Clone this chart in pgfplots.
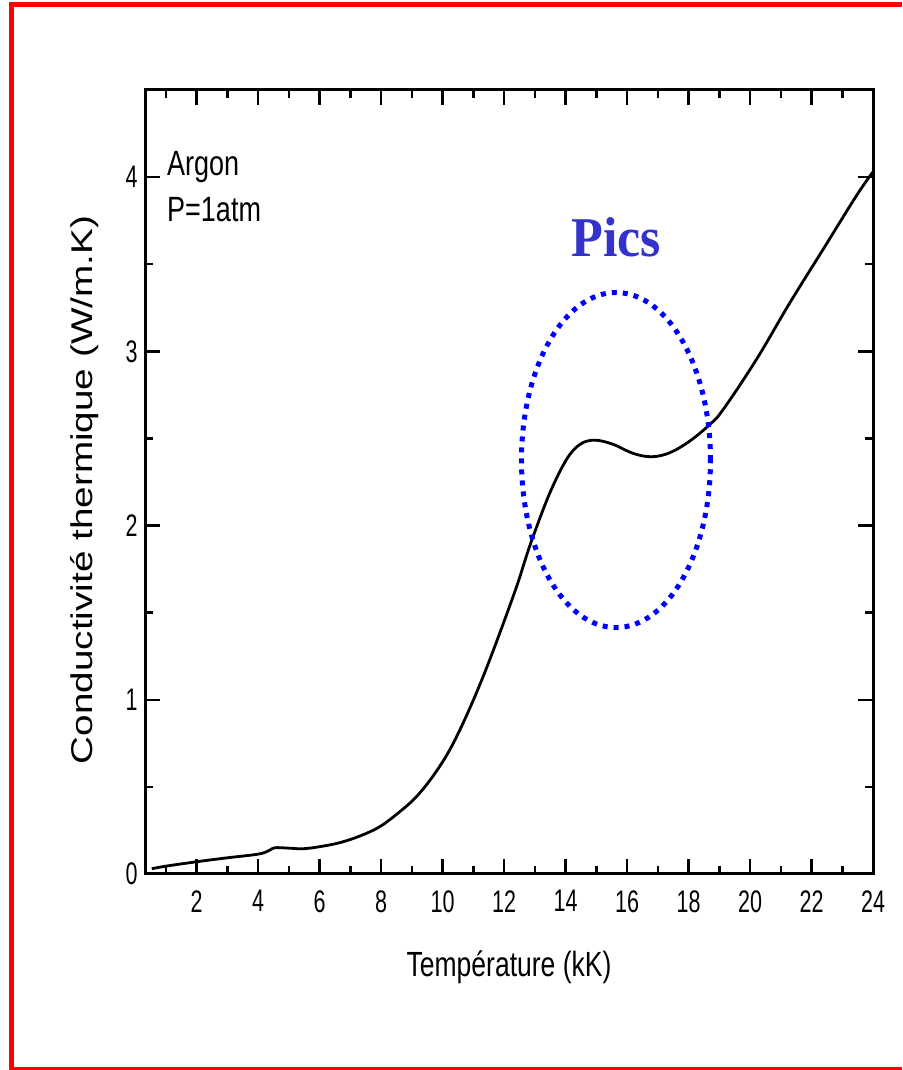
\documentclass[border=0pt]{standalone}
\usepackage{pgfplots}
\pgfplotsset{compat=1.18}
\usepackage{fontspec}
\setmainfont{Liberation Sans}
\newfontfamily\timesfont{Liberation Serif}
\definecolor{picsblue}{RGB}{51,51,204}

\begin{document}
\begin{tikzpicture}
\useasboundingbox (0pt,0pt) rectangle (902pt,1070pt);
% red frame
\draw[red, line width=5pt] (9pt,1065.5pt) -- (902pt,1065.5pt);
\draw[red, line width=5pt] (11.5pt,0pt) -- (11.5pt,1068pt);
\draw[red, line width=2.5pt] (9pt,1.5pt) -- (902pt,1.5pt);

\begin{axis}[
    at={(145pt,196pt)}, anchor=south west, scale only axis,
    width=728pt, height=784pt,
    xmin=0.32, xmax=24, ymin=0, ymax=4.5,
    xtick={2,4,...,24}, ytick={0,1,2,3,4},
    minor xtick={1,3,...,23}, minor ytick={0.5,1.5,2.5,3.5},
    tick align=inside,
    major tick length=15pt, minor tick length=8pt,
    axis line style={line width=3pt},
    tick style={line width=2.5pt, black},
    /pgf/number format/assume math mode=true,
    xticklabel={\scalebox{1}[1.45]{\pgfmathprintnumber{\tick}}},
    yticklabel={\scalebox{1}[1.45]{\pgfmathprintnumber{\tick}}},
    ticklabel style={font=\fontsize{21.5}{25}\selectfont},
    xticklabel shift=13pt, yticklabel shift=4pt,
    xlabel={\scalebox{1}[1.32]{Température (kK)}},
    xlabel style={font=\fontsize{26.5}{30}\selectfont, at={(axis description cs:0.5,0)}, anchor=base, yshift=-102.7pt, inner sep=0pt},
    ylabel={\scalebox{1.29}[1]{Conductivité thermique (W/m.K)}},
    ylabel style={font=\fontsize{30}{34}\selectfont, at={(axis description cs:-0.0728,0.4898)}, anchor=base, rotate=0, inner sep=0pt},
]
\addplot[black, line width=2.8pt, smooth, tension=0.6] coordinates {
    (0.54,0.030) (1.0,0.045) (2.03,0.071) (3.0,0.093) (4.03,0.115)
    (4.39,0.138) (4.55,0.151) (5.04,0.148) (5.46,0.145) (6.01,0.157)
    (6.66,0.180) (7.31,0.218) (7.96,0.272) (8.61,0.358) (9.15,0.444)
    (9.70,0.565) (10.24,0.715) (10.78,0.910) (11.32,1.134) (11.86,1.383)
    (12.41,1.651) (12.68,1.800) (12.95,1.940) (13.49,2.188) (14.03,2.379)
    (14.47,2.466) (14.95,2.490) (15.55,2.466) (16.20,2.414) (16.80,2.395)
    (17.39,2.418) (18.04,2.485) (18.69,2.580) (19.13,2.667) (20.21,2.954)
    (21.30,3.280) (22.38,3.586) (23.46,3.893) (24.0,4.030)
};
\coordinate (ec) at (axis cs:15.64,2.376);
\end{axis}

\draw[blue, line width=5pt, dash pattern=on 5pt off 6pt] (ec) ellipse [x radius=94.5pt, y radius=167.5pt];

\node[anchor=base west, inner sep=0pt, font=\fontsize{27}{32}\selectfont] at (167pt,894pt) {\scalebox{1}[1.3]{Argon}};
\node[anchor=base west, inner sep=0pt, font=\fontsize{27}{32}\selectfont] at (167pt,848.3pt) {\scalebox{1}[1.3]{P=1atm}};
\node[anchor=base, inner sep=0pt, text=picsblue, font=\timesfont\bfseries\fontsize{52}{60}\selectfont] at (616pt,813.3pt) {\scalebox{1}[1.08]{Pics}};
\end{tikzpicture}
\end{document}
